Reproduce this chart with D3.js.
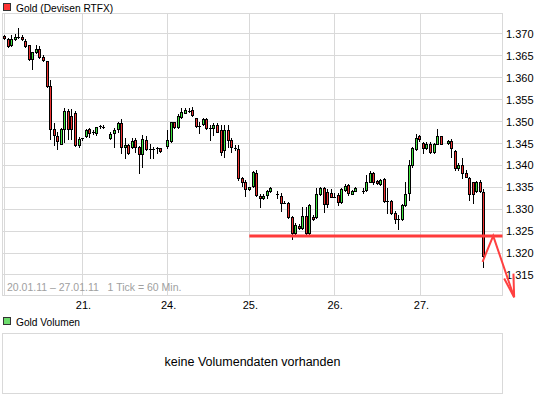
<!DOCTYPE html>
<html><head><meta charset="utf-8">
<script src="https://cdn.jsdelivr.net/npm/d3@7"></script>
<style>
body{margin:0;background:#fff;}
svg text{font-family:"Liberation Sans",Arial,sans-serif;}
</style>
</head><body>
<svg id="chart" width="545" height="398"></svg>
<script>
// ---- data (hourly candles, index = hour slot, null = no trade) ----
const opens = [1.3695,1.3689,1.3674,1.3688,1.3693,1.3693,1.3683,1.3674,1.3642,1.3659,1.3665,1.3647,1.3638,1.3581,1.3482,1.3467,1.3450,1.3484,1.3524,1.3513,
1.3520,1.3447,1.3461,1.3467,1.3482,1.3475,1.3475,1.3488,1.3488,null,1.3462,1.3473,1.3482,1.3496,1.3441,1.3447,1.3443,1.3458,1.3443,1.3425,
1.3458,1.3437,1.3437,1.3439,1.3439,null,1.3445,1.3456,1.3498,1.3487,1.3511,1.3519,1.3524,1.3526,1.3508,1.3490,1.3495,1.3505,1.3485,1.3485,
1.3492,1.3481,1.3435,1.3481,1.3458,1.3439,1.3437,1.3371,1.3361,1.3345,1.3354,1.3382,1.3331,1.3325,1.3332,1.3342,null,1.3334,1.3330,1.3315,
1.3315,1.3282,1.3246,1.3262,1.3256,1.3285,1.3246,1.3283,1.3282,1.3335,1.3348,1.3339,1.3336,1.3329,1.3332,1.3317,1.3344,1.3355,1.3335,1.3342,
null,1.3342,1.3344,1.3363,1.3382,1.3364,1.3358,1.3368,1.3319,1.3319,1.3291,1.3278,1.3277,1.3310,1.3336,1.3401,1.3437,1.3467,1.3451,1.3439,
1.3450,1.3431,1.3450,1.3466,null,1.3451,1.3456,1.3434,1.3393,1.3401,1.3382,1.3371,1.3361,1.3342,1.3361,1.3340];
const highs = [1.3697,1.3691,1.3698,1.3700,1.3714,1.3697,1.3688,1.3675,1.3660,1.3676,1.3673,1.3651,1.3639,1.3594,1.3497,1.3476,1.3485,1.3531,1.3528,1.3528,
1.3524,1.3464,1.3463,1.3484,1.3485,1.3480,1.3487,1.3492,1.3492,null,1.3476,1.3486,1.3500,1.3506,1.3462,1.3450,1.3462,1.3462,1.3445,1.3469,
1.3466,1.3450,1.3443,1.3443,1.3440,null,1.3481,1.3500,1.3500,1.3517,1.3532,1.3530,1.3530,1.3534,1.3508,1.3500,1.3508,1.3508,1.3492,1.3496,
1.3496,1.3492,1.3492,1.3492,1.3462,1.3447,1.3447,1.3374,1.3367,1.3351,1.3387,1.3390,1.3335,1.3335,1.3344,1.3351,null,1.3342,1.3337,1.3319,
1.3317,1.3285,1.3268,1.3266,1.3306,1.3304,1.3313,1.3287,1.3348,1.3351,1.3351,1.3345,1.3345,1.3336,1.3338,1.3348,1.3358,1.3358,1.3344,1.3350,
null,1.3348,1.3378,1.3388,1.3386,1.3367,1.3369,1.3371,1.3348,1.3321,1.3297,1.3287,1.3313,1.3361,1.3412,1.3443,1.3472,1.3469,1.3454,1.3454,
1.3454,1.3451,1.3482,1.3467,null,1.3458,1.3460,1.3435,1.3405,1.3416,1.3390,1.3373,1.3363,1.3365,1.3367,1.3345];
const lows = [1.3689,1.3671,1.3673,1.3686,1.3691,1.3686,1.3670,1.3641,1.3621,1.3657,1.3645,1.3638,1.3580,1.3461,1.3447,1.3437,1.3449,1.3453,1.3461,1.3461,
1.3444,1.3442,1.3459,1.3465,1.3465,1.3472,1.3470,1.3485,1.3485,null,1.3460,1.3443,1.3477,1.3428,1.3416,1.3425,1.3439,1.3431,1.3382,1.3397,
1.3435,1.3416,1.3416,1.3428,1.3431,null,1.3440,1.3454,1.3485,1.3485,1.3509,1.3519,1.3521,1.3513,1.3487,1.3473,1.3492,1.3482,1.3458,1.3470,
1.3476,1.3424,1.3420,1.3441,1.3431,1.3435,1.3367,1.3352,1.3330,1.3344,1.3351,1.3330,1.3306,1.3323,1.3325,1.3340,null,1.3326,1.3297,1.3314,
1.3279,1.3231,1.3243,1.3254,1.3255,1.3243,1.3243,1.3275,1.3279,1.3332,1.3294,1.3306,1.3327,1.3327,1.3310,1.3315,1.3342,1.3332,1.3334,1.3341,
null,1.3336,1.3342,1.3361,1.3358,1.3358,1.3355,1.3317,1.3291,1.3289,1.3268,1.3254,1.3275,1.3307,1.3321,1.3397,1.3435,1.3456,1.3429,1.3437,
1.3429,1.3429,1.3449,1.3449,null,1.3450,1.3420,1.3390,1.3390,1.3371,1.3373,1.3321,1.3315,1.3340,1.3340,1.3169];
const closes = [1.3691,1.3673,1.3688,1.3693,1.3694,1.3688,1.3673,1.3642,1.3659,1.3665,1.3647,1.3640,1.3581,1.3484,1.3469,1.3455,1.3484,1.3524,1.3482,1.3482,
1.3446,1.3461,1.3462,1.3480,1.3473,1.3476,1.3487,1.3489,1.3488,null,1.3471,1.3481,1.3496,1.3443,1.3447,1.3428,1.3456,1.3443,1.3425,1.3460,
1.3437,1.3438,1.3437,1.3439,1.3433,null,1.3458,1.3498,1.3487,1.3513,1.3521,1.3526,1.3524,1.3515,1.3490,1.3490,1.3505,1.3485,1.3485,1.3492,
1.3477,1.3431,1.3481,1.3458,1.3443,1.3439,1.3371,1.3361,1.3345,1.3350,1.3384,1.3332,1.3325,1.3331,1.3342,1.3348,null,1.3334,1.3315,1.3315,
1.3282,1.3246,1.3264,1.3256,1.3285,1.3246,1.3310,1.3277,1.3334,1.3348,1.3312,1.3312,1.3329,1.3329,1.3317,1.3345,1.3353,1.3336,1.3342,1.3348,
null,1.3342,1.3361,1.3382,1.3361,1.3359,1.3367,1.3319,1.3319,1.3291,1.3278,1.3275,1.3310,1.3335,1.3401,1.3439,1.3462,1.3460,1.3439,1.3450,
1.3431,1.3450,1.3467,1.3450,null,1.3456,1.3439,1.3393,1.3401,1.3382,1.3374,1.3335,1.3335,1.3361,1.3342,1.3193];

const yTicks = [1.315,1.320,1.325,1.330,1.335,1.340,1.345,1.350,1.355,1.360,1.365,1.370];
const dayTickPos = [22.1, 46.1, 69.1, 93.0, 117.3];
const dayLabels = ["21.","24.","25.","26.","27."];
const supportLevel = 1.3239;
const supportStart = 69.1;
const arrowLine = [[134.8,1.3180],[137.8,1.3239],[143.7,1.3099]];
const arrowHeadLeft = [[140.9,1.3142],[143.7,1.3099]];
const arrowHeadRight = [[143.5,1.3153],[143.7,1.3099]];
const titleText = "Gold (Devisen RTFX)";
const rangeText = "20.01.11 \u2013 27.01.11   1 Tick = 60 Min.";
const volTitle = "Gold Volumen";
const volMessage = "keine Volumendaten vorhanden";

// ---- layout ----
const plot = {l:2.5, r:502.5, t:13.5, b:295.5};
const svg = d3.select("#chart");
const x = d3.scaleLinear().domain([-0.42, 140.42]).range([plot.l, plot.r]);
const y = d3.scaleLinear().domain([1.31030, 1.37468]).range([plot.b, plot.t]);
const crisp = v => Math.floor(v) + 0.5;
const gridColor = "#d9d9d9";

// plot background & frame
svg.append("rect").attr("x",plot.l).attr("y",plot.t).attr("width",plot.r-plot.l).attr("height",plot.b-plot.t)
  .attr("fill","#fff").attr("stroke",gridColor).attr("shape-rendering","crispEdges");
svg.append("line").attr("x1",4.5).attr("x2",4.5).attr("y1",plot.t).attr("y2",plot.b)
  .attr("stroke",gridColor).attr("shape-rendering","crispEdges");

// horizontal grid
svg.append("g").selectAll("line").data(yTicks).join("line")
  .attr("x1",plot.l).attr("x2",plot.r)
  .attr("y1",d=>crisp(y(d))).attr("y2",d=>crisp(y(d)))
  .attr("stroke",gridColor).attr("shape-rendering","crispEdges");
// vertical grid
svg.append("g").selectAll("line").data(dayTickPos).join("line")
  .attr("x1",d=>crisp(x(d))).attr("x2",d=>crisp(x(d)))
  .attr("y1",plot.t).attr("y2",plot.b)
  .attr("stroke",gridColor).attr("shape-rendering","crispEdges");

// range text
svg.append("text").attr("x",7).attr("y",291).attr("font-size",10.5).attr("fill","#a0a0a0")
  .attr("xml:space","preserve").style("white-space","pre").text(rangeText);

// y labels
svg.append("g").selectAll("text").data(yTicks).join("text")
  .attr("x",506).attr("y",d=>y(d)+4).attr("font-size",11).attr("fill","#000")
  .text(d=>d3.format(".3f")(d));
// x labels
svg.append("g").selectAll("text").data(dayTickPos).join("text")
  .attr("x",d=>x(d)+1).attr("y",309).attr("font-size",11).attr("fill","#000")
  .attr("text-anchor","middle").text((d,i)=>dayLabels[i]);

// candles
const candles = opens.map((o,i)=>({i,o,h:highs[i],l:lows[i],c:closes[i]})).filter(d=>d.o!==null);
const cg = svg.append("g").attr("shape-rendering","crispEdges");
candles.forEach(d=>{
  const cx = Math.round(x(d.i));
  cg.append("line").attr("x1",cx+0.5).attr("x2",cx+0.5)
    .attr("y1",Math.round(y(d.h))).attr("y2",Math.round(y(d.l))+1).attr("stroke","#000");
  const yo = y(d.o), yc = y(d.c);
  const top = Math.round(Math.min(yo,yc)), bot = Math.round(Math.max(yo,yc));
  if (bot - top < 2) {
    cg.append("line").attr("x1",cx-1).attr("x2",cx+2).attr("y1",top+0.5).attr("y2",top+0.5).attr("stroke","#000");
  } else {
    cg.append("rect").attr("x",cx-0.5).attr("y",top+0.5).attr("width",2).attr("height",bot-top)
      .attr("fill", d.c >= d.o ? "#3ee43e" : "#ee3333").attr("stroke","#000");
  }
});

// support line
svg.append("line").attr("x1",x(supportStart)).attr("x2",plot.r)
  .attr("y1",y(supportLevel)).attr("y2",y(supportLevel))
  .attr("stroke","#ff3b3b").attr("stroke-width",3);

// arrow
const lineGen = d3.line().x(d=>x(d[0])).y(d=>y(d[1]));
[arrowLine, arrowHeadLeft, arrowHeadRight].forEach(p=>{
  svg.append("path").attr("d",lineGen(p)).attr("fill","none")
    .attr("stroke","#ff4040").attr("stroke-width",2);
});

// title legend
svg.append("rect").attr("x",3.5).attr("y",3.5).attr("width",7).attr("height",7)
  .attr("fill","#ff3333").attr("stroke","#333").attr("shape-rendering","crispEdges");
svg.append("text").attr("x",16).attr("y",11.5).attr("font-size",10.2).attr("fill","#000").text(titleText);

// volume panel
svg.append("rect").attr("x",3.5).attr("y",317.5).attr("width",7).attr("height",7)
  .attr("fill","#6ddc6d").attr("stroke","#333").attr("shape-rendering","crispEdges");
svg.append("text").attr("x",16).attr("y",325.5).attr("font-size",10.2).attr("fill","#000").text(volTitle);
svg.append("rect").attr("x",plot.l).attr("y",333.5).attr("width",plot.r-plot.l).attr("height",60)
  .attr("fill","#fff").attr("stroke",gridColor).attr("shape-rendering","crispEdges");
svg.append("text").attr("x",(plot.l+plot.r)/2).attr("y",366).attr("font-size",12.5).attr("fill","#000")
  .attr("text-anchor","middle").text(volMessage);
</script>
</body></html>
